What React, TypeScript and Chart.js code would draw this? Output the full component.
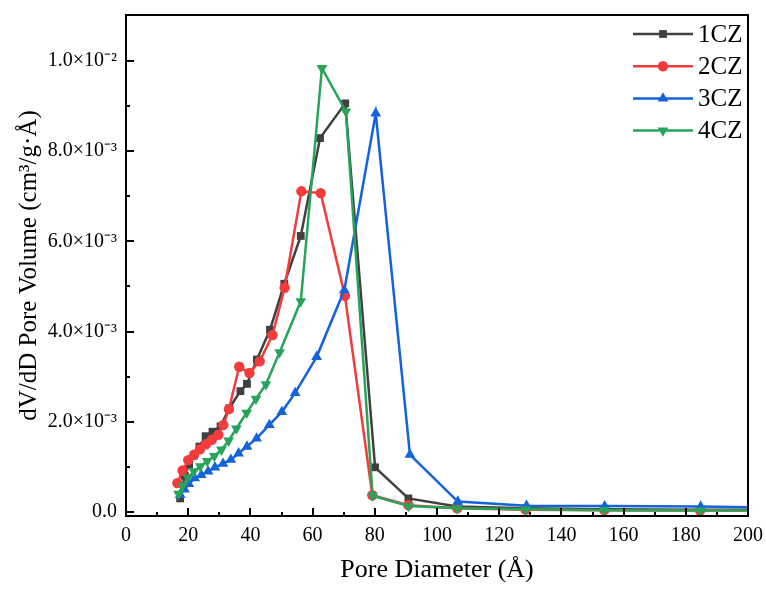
import React, { useEffect, useRef } from 'react';
import { Chart, registerables } from 'chart.js';

Chart.register(...registerables);

const seriesNames = ['1CZ', '2CZ', '3CZ', '4CZ'];

const cz1X = [17.4, 18.9, 20.3, 21.9, 23.6, 25.6, 27.8, 30.4, 33.2, 36.8, 38.9, 42.1, 46.3, 50.9, 56.2, 62.4, 70.5, 80.1, 90.8, 106.5, 128.5, 153.8, 184.6, 230];
const cz1Y = [0.0003, 0.0008, 0.00105, 0.00125, 0.00145, 0.00168, 0.00178, 0.0019, 0.0023, 0.00268, 0.00284, 0.00338, 0.00404, 0.00506, 0.00612, 0.00829, 0.00906, 0.00099, 0.0003, 0.00012, 0.00008, 0.00006, 0.00005, 0.00004];

const cz2X = [16.5, 18.2, 20.0, 21.9, 23.8, 25.7, 27.6, 29.7, 31.3, 33.1, 36.4, 39.7, 43.0, 47.1, 51.0, 56.4, 62.6, 70.4, 79.2, 90.8, 106.5, 128.5, 153.8, 184.6, 230];
const cz2Y = [0.00064, 0.00092, 0.00115, 0.00127, 0.00139, 0.0015, 0.0016, 0.00171, 0.00193, 0.00228, 0.00322, 0.00308, 0.00334, 0.00392, 0.00497, 0.00711, 0.00707, 0.00479, 0.00037, 0.00015, 0.00008, 0.00005, 0.00004, 0.00003, 0.00003];

const cz3X = [17.4, 18.8, 20.2, 22.1, 24.2, 26.4, 28.6, 31.2, 33.7, 36.2, 38.9, 42.0, 46.1, 50.1, 54.4, 61.3, 70.2, 80.3, 91.3, 106.7, 128.8, 153.9, 184.8, 230];
const cz3Y = [0.00038, 0.0005, 0.00062, 0.00075, 0.00082, 0.0009, 0.00099, 0.00107, 0.00116, 0.0013, 0.00145, 0.00163, 0.00193, 0.00222, 0.00264, 0.00344, 0.00492, 0.00884, 0.00127, 0.00023, 0.00014, 0.00013, 0.00012, 0.00008];

const cz4X = [16.9, 18.2, 19.9, 21.8, 23.9, 26.1, 28.4, 30.7, 33.0, 35.5, 38.8, 41.8, 45.0, 49.4, 56.2, 63.0, 70.7, 79.3, 90.8, 106.5, 128.5, 153.8, 184.6, 230];
const cz4Y = [0.0004, 0.00058, 0.00076, 0.0009, 0.00101, 0.00113, 0.00124, 0.00138, 0.00158, 0.00185, 0.0022, 0.00251, 0.00283, 0.00354, 0.00467, 0.00984, 0.00888, 0.00036, 0.00013, 0.00008, 0.00006, 0.00004, 0.00003, 0.00003];

const xTickValues = [0, 20, 40, 60, 80, 100, 120, 140, 160, 180, 200];
const xMinorValues = [10, 30, 50, 70, 90, 110, 130, 150, 170, 190];
const yTickValues = [0, 0.002, 0.004, 0.006, 0.008, 0.01];
const yMinorValues = [0.001, 0.003, 0.005, 0.007, 0.009];
const yTickLabels = ['0.0', '2.0×10⁻³', '4.0×10⁻³', '6.0×10⁻³', '8.0×10⁻³', '1.0×10⁻²'];

const colors = ['#404040', '#f23c3c', '#1462dc', '#27a45a'];
const pointStyles = ['rect', 'circle', 'triangle', 'triangle'];
const pointRotations = [0, 0, 0, 180];
const pointRadii = [5.5, 5.2, 6.2, 6.2];

const FONT = '"Liberation Serif", "Times New Roman", serif';

function drawMarker(ctx: CanvasRenderingContext2D, style: string, rot: number, x: number, y: number, r: number) {
  ctx.beginPath();
  if (style === 'rect') {
    const s = r * Math.SQRT1_2;
    ctx.rect(x - s, y - s, 2 * s, 2 * s);
  } else if (style === 'circle') {
    ctx.arc(x, y, r, 0, Math.PI * 2);
  } else {
    let rad = (rot * Math.PI) / 180;
    ctx.moveTo(x + Math.sin(rad) * r, y - Math.cos(rad) * r);
    rad += (2 * Math.PI) / 3;
    ctx.lineTo(x + Math.sin(rad) * r, y - Math.cos(rad) * r);
    rad += (2 * Math.PI) / 3;
    ctx.lineTo(x + Math.sin(rad) * r, y - Math.cos(rad) * r);
    ctx.closePath();
  }
  ctx.fill();
}

const framePlugin = {
  id: 'frameTicksLegend',
  beforeDraw(chart: any) {
    const ctx = chart.ctx;
    ctx.save();
    ctx.fillStyle = '#ffffff';
    ctx.fillRect(0, 0, chart.width, chart.height);
    ctx.restore();
  },
  afterDraw(chart: any) {
    const ctx: CanvasRenderingContext2D = chart.ctx;
    const { left, right, top, bottom } = chart.chartArea;
    const xs = chart.scales.x;
    const ys = chart.scales.y;
    ctx.save();
    ctx.strokeStyle = '#000';
    ctx.lineWidth = 2;
    ctx.beginPath();
    ctx.rect(left, top, right - left, bottom - top);
    ctx.stroke();
    ctx.beginPath();
    xTickValues.forEach((v) => {
      const px = Math.round(xs.getPixelForValue(v));
      ctx.moveTo(px, bottom);
      ctx.lineTo(px, bottom - 8);
    });
    xMinorValues.forEach((v) => {
      const px = Math.round(xs.getPixelForValue(v));
      ctx.moveTo(px, bottom);
      ctx.lineTo(px, bottom - 4);
    });
    yTickValues.forEach((v) => {
      const py = Math.round(ys.getPixelForValue(v));
      ctx.moveTo(left, py);
      ctx.lineTo(left + 8, py);
    });
    yMinorValues.forEach((v) => {
      const py = Math.round(ys.getPixelForValue(v));
      ctx.moveTo(left, py);
      ctx.lineTo(left + 4, py);
    });
    ctx.stroke();

    // legend
    const x0 = right - 115;
    const x1 = right - 55;
    chart.data.datasets.forEach((ds: any, i: number) => {
      const y = top + 19 + i * 32.2;
      ctx.strokeStyle = ds.borderColor;
      ctx.lineWidth = 2.5;
      ctx.beginPath();
      ctx.moveTo(x0, y);
      ctx.lineTo(x1, y);
      ctx.stroke();
      ctx.fillStyle = ds.backgroundColor;
      drawMarker(ctx, pointStyles[i], pointRotations[i], (x0 + x1) / 2, y, pointRadii[i]);
      ctx.fillStyle = '#000';
      ctx.font = `25px ${FONT}`;
      ctx.textBaseline = 'middle';
      ctx.textAlign = 'left';
      ctx.fillText(ds.label, x1 + 5, y + 1);
    });
    ctx.restore();
  },
};

export default function App() {
  const canvasRef = useRef<HTMLCanvasElement | null>(null);

  useEffect(() => {
    document.body.style.margin = '0';
    const canvas = canvasRef.current;
    if (!canvas) return;
    const xsArr = [cz1X, cz2X, cz3X, cz4X];
    const ysArr = [cz1Y, cz2Y, cz3Y, cz4Y];
    const datasets = seriesNames.map((name, i) => ({
      label: name,
      data: xsArr[i].map((x, j) => ({ x, y: ysArr[i][j] })),
      borderColor: colors[i],
      backgroundColor: colors[i],
      borderWidth: 2.5,
      pointStyle: pointStyles[i],
      pointRotation: pointRotations[i],
      pointRadius: pointRadii[i],
      pointBorderWidth: 0,
      pointHoverRadius: pointRadii[i],
      tension: 0,
      order: 4 - i,
      clip: { left: 5, top: 5, right: 0, bottom: 8 },
    }));

    const chart = new Chart(canvas, {
      type: 'line',
      data: { datasets } as any,
      options: {
        animation: false,
        responsive: false,
        devicePixelRatio: 1,
        events: [],
        layout: { padding: { left: 0, top: 15, right: 18, bottom: 0 } },
        plugins: {
          legend: { display: false },
          tooltip: { enabled: false },
          title: { display: false },
        },
        scales: {
          x: {
            type: 'linear',
            min: 0,
            max: 200,
            border: { display: false },
            grid: { display: false, drawTicks: false },
            afterBuildTicks: (scale: any) => {
              scale.ticks = xTickValues.map((v) => ({ value: v }));
            },
            afterFit: (scale: any) => {
              scale.height = 74;
              scale.paddingLeft = 0;
              scale.paddingRight = 0;
            },
            ticks: {
              color: '#000',
              font: { family: FONT, size: 20 },
              padding: 8,
              maxRotation: 0,
              autoSkip: false,
              callback: (v: any) => String(v),
            },
            title: {
              display: true,
              text: 'Pore Diameter (Å)',
              color: '#000',
              font: { family: FONT, size: 26 },
              padding: { top: 0, bottom: 4 },
            },
          },
          y: {
            type: 'linear',
            min: -0.00009,
            max: 0.01102,
            border: { display: false },
            grid: { display: false, drawTicks: false },
            afterBuildTicks: (scale: any) => {
              scale.ticks = yTickValues.map((v) => ({ value: v }));
            },
            afterFit: (scale: any) => {
              scale.width = 126;
              scale.paddingTop = 0;
              scale.paddingBottom = 0;
            },
            ticks: {
              color: '#000',
              font: { family: FONT, size: 20 },
              padding: 9,
              autoSkip: false,
              callback: (v: any) => {
                const idx = yTickValues.findIndex((t) => Math.abs(t - v) < 1e-9);
                return idx >= 0 ? yTickLabels[idx] : '';
              },
            },
            title: {
              display: true,
              text: 'dV/dD Pore Volume (cm³/g·Å)',
              color: '#000',
              font: { family: FONT, size: 25 },
              padding: { top: 14, bottom: 0 },
            },
          },
        },
      },
      plugins: [framePlugin],
    } as any);

    return () => {
      chart.destroy();
    };
  }, []);

  return (
    <div style={{ width: 766, height: 590, position: 'relative' }}>
      <canvas ref={canvasRef} width={766} height={590} style={{ display: 'block' }} />
    </div>
  );
}
